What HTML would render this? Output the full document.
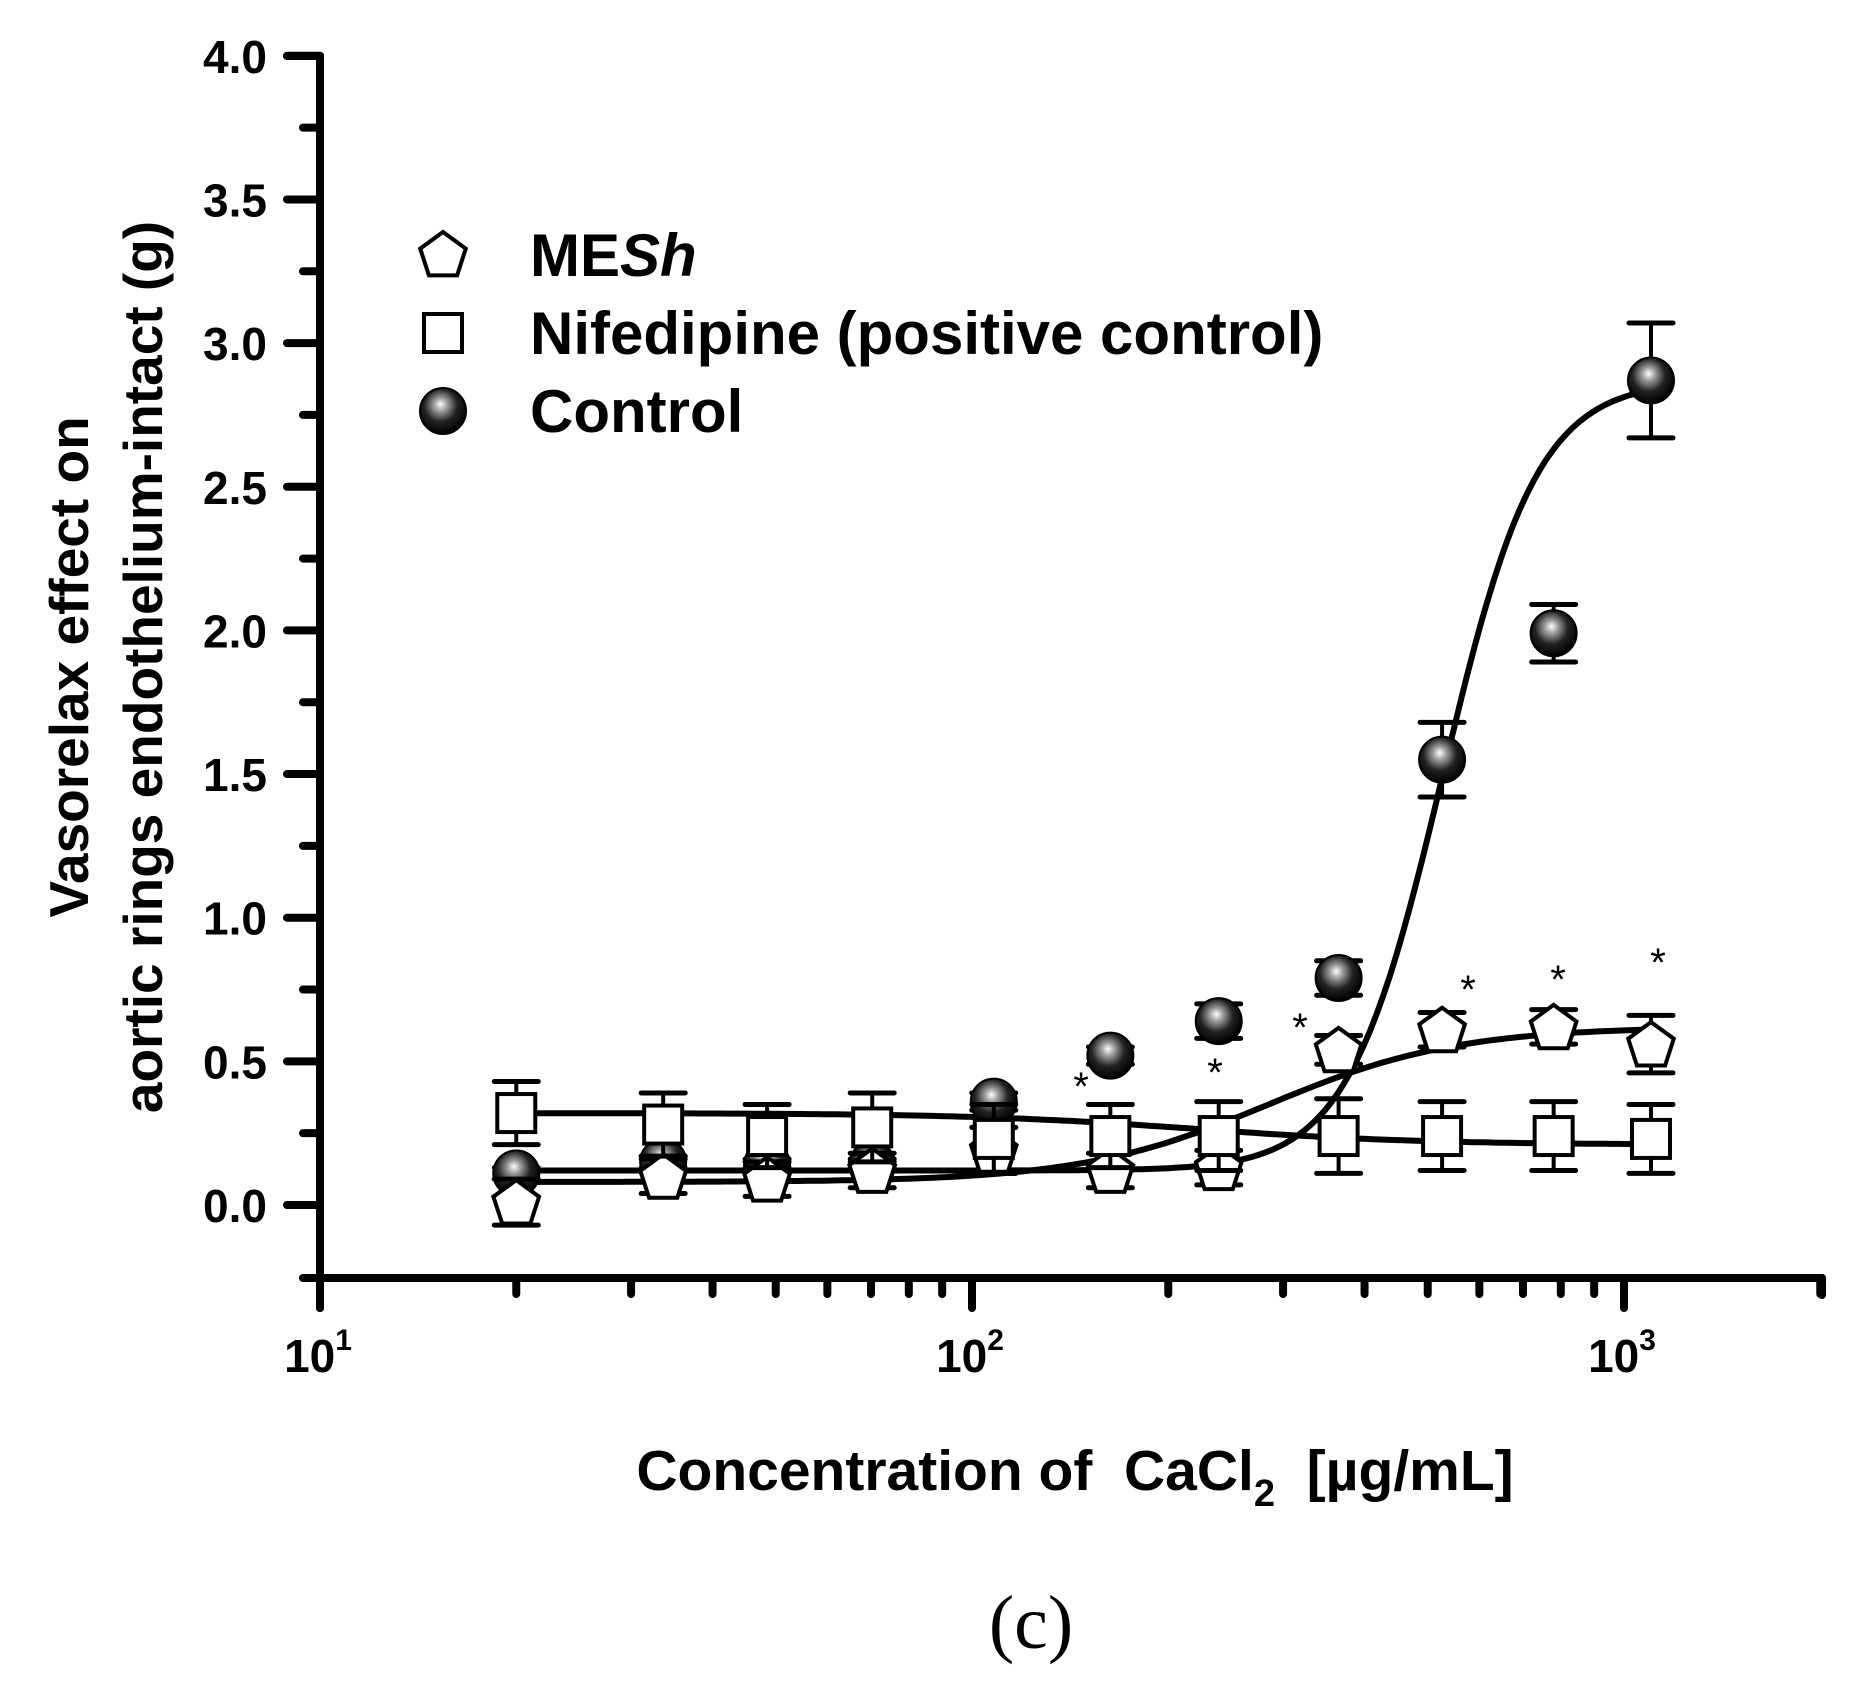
<!DOCTYPE html>
<html><head><meta charset="utf-8"><style>
html,body{margin:0;padding:0;background:#fff;}
svg{display:block;}
text{font-family:"Liberation Sans",Arial,sans-serif;font-weight:bold;fill:#000;white-space:pre;}
</style></head><body>
<svg id="s" width="1858" height="1687" viewBox="0 0 1858 1687" xmlns="http://www.w3.org/2000/svg">
<defs>
<radialGradient id="sph" cx="0.45" cy="0.4" r="0.6" fx="0.45" fy="0.35">
<stop offset="0" stop-color="#fff"/><stop offset="0.25" stop-color="#999"/><stop offset="0.6" stop-color="#222"/><stop offset="1" stop-color="#000"/>
</radialGradient>
</defs>
<g id="g"></g>
<text x="1075" y="1490" font-size="57" text-anchor="middle" xml:space="preserve">Concentration of  CaCl<tspan font-size="38" dy="16">2</tspan><tspan dy="-16">  [µg/mL]</tspan></text>
<text x="1031" y="1648" font-size="76" text-anchor="middle" style="font-family:'Liberation Serif',serif;font-weight:normal">(c)</text>
<g transform="translate(88,667) rotate(-90)"><text x="0" y="0" font-size="55" text-anchor="middle">Vasorelax effect on</text></g>
<g transform="translate(162,667) rotate(-90)"><text x="0" y="0" font-size="55" text-anchor="middle">aortic rings endothelium-intact (g)</text></g>
<text x="530" y="276" font-size="60">ME<tspan font-style="italic">Sh</tspan></text>
<text x="530" y="354" font-size="60">Nifedipine (positive control)</text>
<text x="530" y="432" font-size="60">Control</text>
</svg>
<script>
var g=document.getElementById('g'),h='';
var X=function(c){return 320+(Math.log10(c)-1)*652;};
var Y=function(v){return 1205-v*287.3;};
function L(x1,y1,x2,y2,w){h+='<line x1="'+x1+'" y1="'+y1+'" x2="'+x2+'" y2="'+y2+'" stroke="#000" stroke-width="'+(w||8)+'" stroke-linecap="round"/>';}
L(320,56,320,1308);L(320,1278,1822,1278);L(1822,1278,1822,1295);
L(287,56,320,56);
for(var i=0;i<=16;i++){var v=4-i*0.25,y=Y(v);if(i%2==0){L(287,y,320,y);h+='<text x="267" y="'+(y+17)+'" font-size="46" text-anchor="end">'+v.toFixed(1)+'</text>';}else L(303,y,320,y);}
L(303,1278,320,1278);
[10,100,1000].forEach(function(c,k){L(X(c),1278,X(c),1308);h+='<text x="'+(X(c)-2)+'" y="'+1372+'" font-size="46" text-anchor="middle">10<tspan font-size="30" dy="-22">'+(k+1)+'</tspan></text>';});
for(var d=10;d<=1000;d*=10)for(var m=2;m<=9;m++){var c=d*m;if(c>2000)break;L(X(c),1278,X(c),1294);}
function curve(f){var p='';for(var lg=Math.log10(20);lg<=Math.log10(1100);lg+=0.01){var c=Math.pow(10,lg);p+=(p?'L':'M')+X(c).toFixed(1)+','+Y(f(c)).toFixed(1);}h+='<path d="'+p+'" fill="none" stroke="#000" stroke-width="6"/>';}
curve(function(c){return 0.12+2.75/(1+Math.pow(527/c,6));});
curve(function(c){return 0.08+0.54/(1+Math.pow(285/c,3));});
curve(function(c){return 0.21+0.11/(1+Math.pow(c/220,2.5));});
var xs=[20,33.6,48.5,70.3,108,163,239,365,526,780,1100];
function eb(x,v,e){var a=Y(v+e),b=Y(v-e);h+='<line x1="'+x+'" y1="'+a+'" x2="'+x+'" y2="'+b+'" stroke="#000" stroke-width="4"/>';L(x-22,a,x+22,a,5);L(x-22,b,x+22,b,5);}
var nif=[0.32,0.28,0.24,0.27,0.23,0.24,0.24,0.24,0.24,0.24,0.23];
var nifE=[0.11,0.11,0.11,0.12,0.12,0.11,0.12,0.13,0.12,0.12,0.12];
var mes=[0.01,0.10,0.09,0.12,0.19,0.12,0.13,0.54,0.61,0.62,0.56];
var mesE=[0.08,0.06,0.06,0.06,0.08,0.06,0.06,0.05,0.06,0.06,0.1];
var con=[0.11,0.15,0.14,0.14,0.36,0.52,0.64,0.79,1.55,1.99,2.87];
var conE=[0.02,0.02,0.02,0.02,0.03,0.03,0.06,0.06,0.13,0.1,0.2];
function sq(x,y){h+='<rect x="'+(x-19)+'" y="'+(y-19)+'" width="38" height="38" fill="#fff" stroke="#000" stroke-width="4"/>';}
function pent(x,y){var p='';for(var k=0;k<5;k++){var a=-Math.PI/2+k*2*Math.PI/5;p+=(x+24*Math.cos(a)).toFixed(1)+','+(y+24*Math.sin(a)+2).toFixed(1)+' ';}h+='<polygon points="'+p+'" fill="#fff" stroke="#000" stroke-width="4"/>';}
function sp(x,y){h+='<circle cx="'+x+'" cy="'+y+'" r="23" fill="url(#sph)" stroke="#000" stroke-width="2"/>';}
xs.forEach(function(c,i){var x=X(c);eb(x,con[i],conE[i]);sp(x,Y(con[i]));});
xs.forEach(function(c,i){var x=X(c);eb(x,mes[i],mesE[i]);pent(x,Y(mes[i]));});
xs.forEach(function(c,i){var x=X(c);eb(x,nif[i],nifE[i]);sq(x,Y(nif[i]));});
[[1081,1100],[1215,1086],[1300,1041],[1468,1003],[1558,993],[1658,976]].forEach(function(p){h+='<text x="'+p[0]+'" y="'+p[1]+'" font-size="40" text-anchor="middle" style="font-weight:normal">*</text>';});
pent(443,254);sq(443,333);sp(443,411);
g.innerHTML=h;
</script>
</body></html>
